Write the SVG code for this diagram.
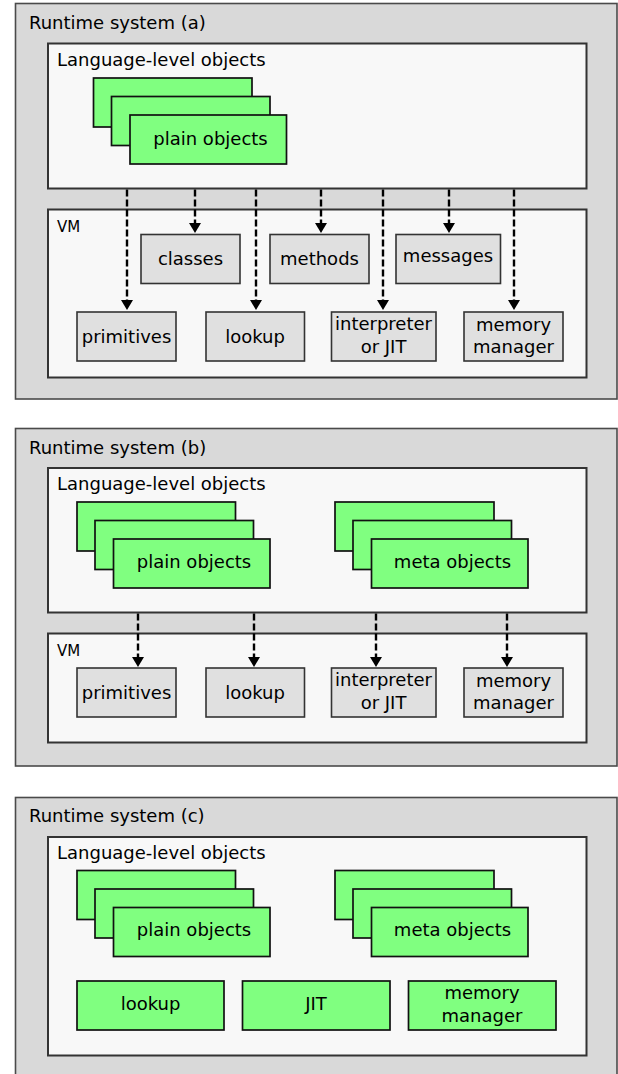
<svg xmlns="http://www.w3.org/2000/svg" width="618" height="1074" viewBox="0 0 618 1074">
<style>
.outer{fill:#d9d9d9;stroke:#4a4a4a;stroke-width:1.6}
.inner{fill:#f8f8f8;stroke:#333;stroke-width:2}
.gbox{fill:#e0e0e0;stroke:#333;stroke-width:1.6}
.green{fill:#80ff80;stroke:#111;stroke-width:1.7}
text{font-family:"DejaVu Sans",sans-serif;font-size:18px;fill:#000}
.c{text-anchor:middle}
.vm{font-size:15px}
.arr{stroke:#000;stroke-width:2.4;stroke-dasharray:7,3;fill:none;marker-end:url(#ah)}
</style>
<defs>
<marker id="ah" viewBox="0 0 10 12" refX="0" refY="6" markerWidth="10" markerHeight="12" markerUnits="userSpaceOnUse" orient="auto">
<path d="M0,0 L10,6 L0,12 z" fill="#000"/>
</marker>
</defs>

<!-- Panel (a) -->
<g id="panel-a">
<rect class="outer" x="15.5" y="3.5" width="601.5" height="395.5"/>
<text x="29" y="28.5">Runtime system (a)</text>
</g>
<g id="lang-a">
<rect class="inner" x="48" y="43.5" width="538.5" height="145"/>
<text x="57" y="65.5">Language-level objects</text>
</g>
<g id="plain-a">
<rect class="green" x="93.5" y="78" width="158.5" height="49"/>
<rect class="green" x="111.5" y="96.5" width="158.5" height="49"/>
<rect class="green" x="130" y="115" width="156.5" height="49"/>
<text class="c" x="210.5" y="145">plain objects</text>
</g>
<g id="vm-a">
<rect class="inner" x="48" y="209.5" width="538.5" height="168"/>
<text class="vm" x="57" y="232">VM</text>
</g>
<g id="classes-a"><rect class="gbox" x="141" y="234.5" width="99" height="49"/><text class="c" x="190.5" y="265">classes</text></g>
<g id="methods-a"><rect class="gbox" x="270" y="234.5" width="99" height="49"/><text class="c" x="319.5" y="265">methods</text></g>
<g id="messages-a"><rect class="gbox" x="396" y="234.5" width="104.5" height="49"/><text class="c" x="448" y="262">messages</text></g>
<g id="primitives-a"><rect class="gbox" x="77" y="312" width="99" height="49"/><text class="c" x="126.5" y="343">primitives</text></g>
<g id="lookup-a"><rect class="gbox" x="206" y="312" width="98.5" height="49"/><text class="c" x="255" y="343">lookup</text></g>
<g id="interp-a"><rect class="gbox" x="331.5" y="312" width="104.5" height="49"/><text class="c" x="383.5" y="330">interpreter</text><text class="c" x="383.5" y="352.5">or JIT</text></g>
<g id="mem-a"><rect class="gbox" x="464" y="312" width="99" height="49"/><text class="c" x="513.5" y="330.5">memory</text><text class="c" x="513.5" y="352.5">manager</text></g>

<!-- Panel (b) -->
<g id="panel-b">
<rect class="outer" x="15.5" y="428.5" width="601.5" height="337.5"/>
<text x="29" y="453.5">Runtime system (b)</text>
</g>
<g id="lang-b">
<rect class="inner" x="48" y="468" width="538.5" height="144.5"/>
<text x="57" y="490">Language-level objects</text>
</g>
<g id="plain-b">
<rect class="green" x="77" y="502" width="158.5" height="49"/>
<rect class="green" x="95" y="520.5" width="158.5" height="49"/>
<rect class="green" x="113.5" y="539" width="156.5" height="49"/>
<text class="c" x="194" y="567.5">plain objects</text>
</g>
<g id="meta-b">
<rect class="green" x="335" y="502" width="159" height="49"/>
<rect class="green" x="353" y="520.5" width="158.5" height="49"/>
<rect class="green" x="371.5" y="539" width="156.5" height="49"/>
<text class="c" x="452.5" y="567.5">meta objects</text>
</g>
<g id="vm-b">
<rect class="inner" x="48" y="633.5" width="538.5" height="109"/>
<text class="vm" x="57" y="656">VM</text>
</g>
<g id="primitives-b"><rect class="gbox" x="77" y="668" width="99" height="49"/><text class="c" x="126.5" y="699">primitives</text></g>
<g id="lookup-b"><rect class="gbox" x="206" y="668" width="98.5" height="49"/><text class="c" x="255" y="699">lookup</text></g>
<g id="interp-b"><rect class="gbox" x="331.5" y="668" width="104.5" height="49"/><text class="c" x="383.5" y="686">interpreter</text><text class="c" x="383.5" y="708.5">or JIT</text></g>
<g id="mem-b"><rect class="gbox" x="464" y="668" width="99" height="49"/><text class="c" x="513.5" y="686.5">memory</text><text class="c" x="513.5" y="708.5">manager</text></g>

<!-- Panel (c) -->
<g id="panel-c">
<rect class="outer" x="15.5" y="797.5" width="601.5" height="300"/>
<text x="29" y="822">Runtime system (c)</text>
</g>
<g id="lang-c">
<rect class="inner" x="48" y="837" width="538.5" height="218.5"/>
<text x="57" y="859">Language-level objects</text>
</g>
<g id="plain-c">
<rect class="green" x="77" y="870.5" width="158.5" height="49"/>
<rect class="green" x="95" y="889" width="158.5" height="49"/>
<rect class="green" x="113.5" y="907.5" width="156.5" height="49"/>
<text class="c" x="194" y="936">plain objects</text>
</g>
<g id="meta-c">
<rect class="green" x="335" y="870.5" width="159" height="49"/>
<rect class="green" x="353" y="889" width="158.5" height="49"/>
<rect class="green" x="371.5" y="907.5" width="156.5" height="49"/>
<text class="c" x="452.5" y="936">meta objects</text>
</g>
<g id="lookup-c"><rect class="green" x="77" y="981" width="147" height="49"/><text class="c" x="150.5" y="1010">lookup</text></g>
<g id="jit-c"><rect class="green" x="242.5" y="981" width="147.5" height="49"/><text class="c" x="316" y="1010">JIT</text></g>
<g id="mem-c"><rect class="green" x="408.5" y="981" width="147.5" height="49"/><text class="c" x="482" y="999">memory</text><text class="c" x="482" y="1021.5">manager</text></g>

<!-- Connectors -->
<g id="connectors">
<line class="arr" x1="127" y1="189.5" x2="127" y2="300"/>
<line class="arr" x1="195" y1="189.5" x2="195" y2="223"/>
<line class="arr" x1="256" y1="189.5" x2="256" y2="300"/>
<line class="arr" x1="321" y1="189.5" x2="321" y2="223"/>
<line class="arr" x1="383" y1="189.5" x2="383" y2="300"/>
<line class="arr" x1="449" y1="189.5" x2="449" y2="223"/>
<line class="arr" x1="514" y1="189.5" x2="514" y2="300"/>
<line class="arr" x1="138" y1="613.5" x2="138" y2="657"/>
<line class="arr" x1="254" y1="613.5" x2="254" y2="657"/>
<line class="arr" x1="376" y1="613.5" x2="376" y2="657"/>
<line class="arr" x1="507" y1="613.5" x2="507" y2="657"/>
</g>
</svg>
